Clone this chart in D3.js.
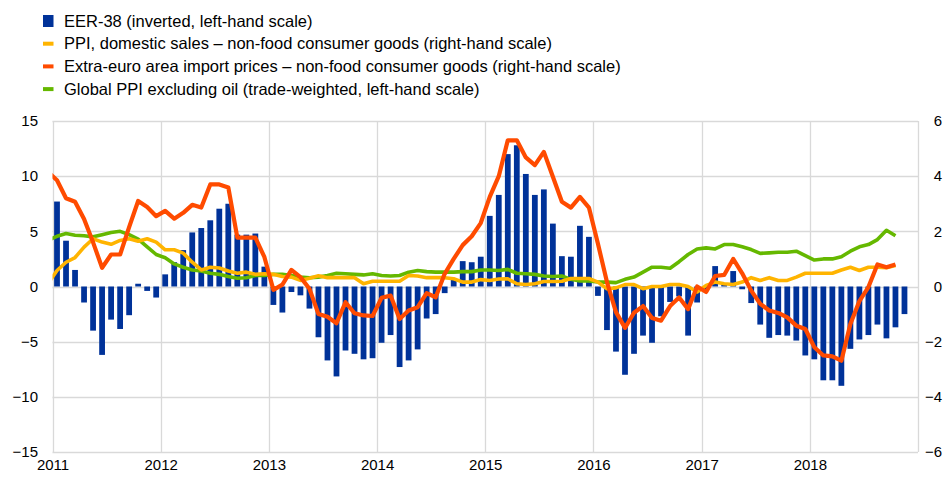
<!DOCTYPE html>
<html><head><meta charset="utf-8">
<script src="https://cdn.jsdelivr.net/npm/d3@7"></script>
<style>
html,body{margin:0;padding:0;background:#fff;}
svg{display:block;font-family:"Liberation Sans",Arial,sans-serif;}
</style></head>
<body><svg id="c" width="944" height="477"></svg>
<script>
// ---- data ----
const startMonth = "2011-01";           // first bar month
const lineStartMonth = "2010-12";       // first line point month
const leftTicks = [-15,-10,-5,0,5,10,15];
const rightTicks = [-6,-4,-2,0,2,4,6];
const yearLabels = ["2011","2012","2013","2014","2015","2016","2017","2018"];
const legendLabels = [
  "EER-38 (inverted, left-hand scale)",
  "PPI, domestic sales \u2013 non-food consumer goods (right-hand scale)",
  "Extra-euro area import prices \u2013 non-food consumer goods (right-hand scale)",
  "Global PPI excluding oil (trade-weighted, left-hand scale)"
];
// EER-38 inverted (left scale), Jan 2011 - Nov 2018
const eer = [
  7.7, 4.15, 1.5, -1.45, -4.0, -6.2, -3.0, -3.85, -2.6, 0.25, -0.4, -1.0,
  1.1, 2.2, 3.3, 4.9, 5.3, 6.0, 7.05, 7.5, 4.7, 4.7, 4.8, 1.8,
  -1.67, -2.36, -0.5, -0.8, -2.0, -4.6, -6.7, -8.15, -5.8, -6.1, -6.6, -6.5,
  -5.1, -4.4, -7.3, -6.7, -5.7, -2.9, -2.5, -0.6, 0.7, 2.3, 2.2, 2.7,
  6.4, 8.3, 12.0, 12.8, 10.2, 8.3, 8.8, 5.7, 2.75, 2.7, 5.5, 4.5,
  -0.85, -3.95, -5.9, -8.0, -6.1, -4.45, -5.1, -2.7, -1.4, -0.9, -4.45, -1.45,
  -0.3, 1.85, 0.3, 1.4, -0.25, -1.5, -3.45, -4.65, -4.4, -4.45, -4.9, -6.25,
  -6.6, -8.5, -8.5, -9.0, -5.65, -4.8, -4.4, -3.45, -4.7, -3.7, -2.5
];
// PPI domestic sales (right scale), Dec 2010 - Oct 2018
const ppi = [
  0.1,
  0.58, 0.88, 1.05, 1.43, 1.73, 1.61, 1.53, 1.67, 1.73, 1.64, 1.73, 1.61,
  1.33, 1.33, 1.21, 0.88, 0.6, 0.7, 0.67, 0.56, 0.48, 0.52, 0.44, 0.46,
  0.44, 0.36, 0.34, 0.22, 0.3, 0.39, 0.32, 0.32, 0.32, 0.32, 0.1, 0.19,
  0.19, 0.19, 0.19, 0.4, 0.38, 0.32, 0.32, 0.32, 0.28, 0.16, 0.16, 0.25,
  0.22, 0.27, 0.28, 0.1, 0.07, 0.1, 0.18, 0.18, 0.19, 0.29, 0.29, 0.29,
  0.16, -0.08, -0.05, 0.07, 0.07, -0.08, 0.0, 0.0, 0.07, 0.07, 0.0, -0.2,
  0.04, 0.16, 0.1, 0.07, 0.16, 0.32, 0.22, 0.32, 0.22, 0.22, 0.34, 0.48,
  0.48, 0.48, 0.48, 0.6, 0.7, 0.58, 0.7, 0.7, 0.68, 0.76
];
// Extra-euro area import prices (right scale), Dec 2010 - Oct 2018
const imp = [
  4.15,
  3.85, 3.2, 3.07, 2.45, 1.6, 0.68, 1.16, 1.16, 2.15, 3.1, 2.88, 2.55,
  2.74, 2.46, 2.67, 2.96, 2.86, 3.7, 3.7, 3.59, 1.77, 1.77, 1.77, 1.07,
  -0.12, 0.07, 0.6, 0.34, -0.08, -1.0, -1.1, -1.33, -0.57, -0.97, -1.05, -1.07,
  -0.41, -0.33, -1.18, -0.87, -0.75, -0.24, -0.39, 0.46, 1.0, 1.5, 1.82, 2.3,
  3.25, 4.0, 5.3, 5.3, 4.68, 4.4, 4.88, 3.98, 3.07, 2.86, 3.25, 2.86,
  1.55, 0.16, -0.93, -1.5, -0.95, -0.71, -1.14, -1.24, -0.71, -0.4, -0.82, 0.0,
  -0.2, 0.38, 0.42, 1.0, 0.48, -0.15, -0.63, -0.87, -0.96, -1.12, -1.42, -1.54,
  -2.2, -2.5, -2.53, -2.69, -1.36, -0.53, -0.02, 0.8, 0.7, 0.8
];
// Global PPI excluding oil (left scale), Dec 2010 - Oct 2018
const gppi = [
  4.2,
  4.55, 4.8, 4.65, 4.6, 4.5, 4.7, 4.9, 5.0, 4.7, 4.3, 3.6, 2.9,
  2.6, 2.05, 1.75, 1.5, 1.4, 1.2, 1.1, 0.9, 0.75, 0.8, 1.0, 1.0,
  1.1, 1.1, 1.0, 0.85, 0.8, 0.85, 1.0, 1.2, 1.15, 1.1, 1.05, 1.15,
  1.0, 0.95, 1.0, 1.3, 1.45, 1.35, 1.3, 1.3, 1.3, 1.35, 1.35, 1.5,
  1.5, 1.45, 1.55, 1.2, 1.15, 1.1, 0.95, 0.9, 0.95, 0.65, 0.5, 0.5,
  0.4, 0.4, 0.35, 0.65, 0.85, 1.3, 1.75, 1.75, 1.65, 2.25, 2.9, 3.4,
  3.5, 3.4, 3.8, 3.8, 3.6, 3.35, 3.0, 3.05, 3.1, 3.1, 3.2, 2.8,
  2.4, 2.5, 2.5, 2.7, 3.2, 3.6, 3.8, 4.25, 5.1, 4.6
];
const colors = {eer:"#003299", ppi:"#FFB400", imp:"#FF4B00", gppi:"#65B800"};

// ---- layout ----
const svg = d3.select("#c");
const L = 52.5, R = 918, T = 121, B = 452;
const FONT = "Liberation Sans, Arial, sans-serif";
const parse = d3.timeParse("%Y-%m");
const t0 = parse(startMonth);
const nMonths = yearLabels.length * 12;
const x = d3.scaleLinear().domain([0, nMonths]).range([L, R]);
const yL = d3.scaleLinear().domain([-15, 15]).range([B, T]);
const yR = d3.scaleLinear().domain([-6, 6]).range([B, T]);
const mIndex = d => d3.timeMonth.count(t0, d);

// grid
const g = svg.append("g");
g.selectAll(".hg").data(leftTicks).join("line")
  .attr("x1", L).attr("x2", R)
  .attr("y1", d => Math.round(yL(d)) + 0.5).attr("y2", d => Math.round(yL(d)) + 0.5)
  .attr("stroke", "#d9d9d9").attr("stroke-width", 1.3);
const yearIdx = d3.range(yearLabels.length + 1).map(i => i * 12);
g.selectAll(".vg").data(yearIdx).join("line")
  .attr("x1", d => Math.round(x(d)) + 0.5).attr("x2", d => Math.round(x(d)) + 0.5)
  .attr("y1", T).attr("y2", B)
  .attr("stroke", "#d9d9d9").attr("stroke-width", 1.3);

// bars
const barMonths = eer.map((v, i) => d3.timeMonth.offset(t0, i));
const band = d3.scaleBand().domain(d3.range(nMonths)).range([L, R]).paddingInner(0.36).paddingOuter(0.18);
svg.append("g").selectAll("rect").data(eer).join("rect")
  .attr("x", (d, i) => band(mIndex(barMonths[i])))
  .attr("width", band.bandwidth())
  .attr("y", d => Math.min(yL(d), yL(0)))
  .attr("height", d => Math.abs(yL(d) - yL(0)))
  .attr("fill", colors.eer);

// lines
svg.append("clipPath").attr("id", "clip").append("rect")
  .attr("x", L).attr("y", 0).attr("width", R - L).attr("height", 477);
const l0 = parse(lineStartMonth);
const lineFor = (arr, y) => d3.line()
  .x((d, i) => x(mIndex(d3.timeMonth.offset(l0, i)) + 0.5))
  .y(d => y(d))(arr);
const lg = svg.append("g").attr("clip-path", "url(#clip)");
[["gppi", gppi, yL, 3.6], ["ppi", ppi, yR, 3.6], ["imp", imp, yR, 4.2]].forEach(([k, arr, y, w]) => {
  lg.append("path").attr("d", lineFor(arr, y)).attr("fill", "none")
    .attr("stroke", colors[k]).attr("stroke-width", w).attr("stroke-linejoin", "round");
});

// axes labels
const axL = d3.axisLeft(yL).tickValues(leftTicks).tickSize(0).tickPadding(0);
svg.append("g").attr("transform", "translate(38,0)").call(axL)
  .call(s => s.select(".domain").remove())
  .selectAll("text").attr("font-size", 15).attr("fill", "#000").attr("font-family", FONT);
const axR = d3.axisRight(yR).tickValues(rightTicks).tickSize(0).tickPadding(0).tickFormat(d3.format("d"));
svg.append("g").attr("transform", "translate(942,0)").call(axR)
  .call(s => s.select(".domain").remove())
  .selectAll("text").attr("text-anchor", "end").attr("font-size", 15).attr("fill", "#000").attr("font-family", FONT);
const axB = d3.axisBottom(x).tickValues(yearIdx.slice(0, yearLabels.length)).tickFormat((d, i) => yearLabels[i]).tickSize(0).tickPadding(0);
svg.append("g").attr("transform", "translate(0,459)").call(axB)
  .call(s => s.select(".domain").remove())
  .selectAll("text").attr("font-size", 15).attr("fill", "#000").attr("font-family", FONT);

// legend
const leg = svg.append("g");
const keys = ["eer", "ppi", "imp", "gppi"];
legendLabels.forEach((txt, i) => {
  const cy = 21 + i * 22.7;
  if (i === 0) {
    leg.append("rect").attr("x", 43).attr("y", cy - 6).attr("width", 10.5).attr("height", 12).attr("fill", colors[keys[i]]);
  } else {
    leg.append("rect").attr("x", 43).attr("y", cy - 2).attr("width", 10.5).attr("height", 4).attr("fill", colors[keys[i]]);
  }
  leg.append("text").attr("x", 64).attr("y", cy + 5.5).attr("font-size", 16.5).attr("fill", "#000").text(txt);
});
</script></body></html>
